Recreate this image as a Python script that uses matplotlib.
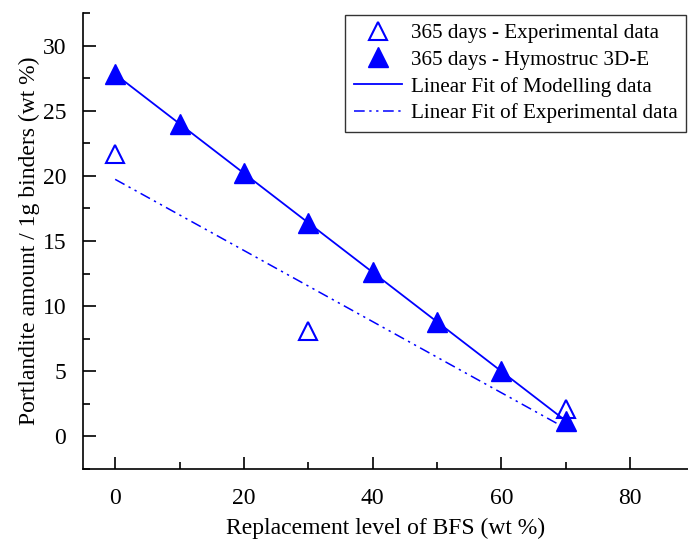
import numpy as np
import matplotlib
matplotlib.use("Agg")
import matplotlib.pyplot as plt
from matplotlib.ticker import MultipleLocator

plt.rcParams['font.family'] = ['Liberation Serif', 'DejaVu Serif']

# data
bfs_exp = [0, 30, 70]
ch_exp = [21.7, 8.1, 2.1]
bfs_mod = [0, 10, 20, 30, 40, 50, 60, 70]
ch_mod = [27.8, 24.0, 20.2, 16.4, 12.6, 8.8, 5.0, 1.2]

blue = '#0000ff'

fig = plt.figure(figsize=(6.88, 5.44), dpi=100)
ax = fig.add_axes([83 / 688, (544 - 469) / 544, (688 - 83) / 688, (469 - 13) / 544])

ax.plot(bfs_exp, ch_exp, linestyle='none', marker='^', ms=13, mfc='white',
        mec=blue, mew=1.5, label='365 days - Experimental data')
ax.plot(bfs_mod, ch_mod, linestyle='none', marker='^', ms=14, color=blue,
        label='365 days - Hymostruc 3D-E')

# linear fits
xf = np.array([0, 70])
pm = np.polyfit(bfs_mod, ch_mod, 1)
pe = np.polyfit(bfs_exp, ch_exp, 1)
ax.plot(xf, np.polyval(pm, xf), color=blue, lw=1.3, label='Linear Fit of Modelling data')
ax.plot(xf, np.polyval(pe, xf), color=blue, lw=1.1, linestyle=(0, (7, 3, 1.5, 3, 1.5, 3)),
        label='Linear Fit of Experimental data')

ax.set_xlim(-5, 89)
ax.set_ylim(-2.5, 32.5)
ax.xaxis.set_major_locator(MultipleLocator(20))
ax.xaxis.set_minor_locator(MultipleLocator(10))
ax.yaxis.set_major_locator(MultipleLocator(5))
ax.yaxis.set_minor_locator(MultipleLocator(2.5))

ax.spines['top'].set_visible(False)
ax.spines['right'].set_visible(False)
ax.spines['left'].set_linewidth(1.2)
ax.spines['bottom'].set_linewidth(1.2)
ax.tick_params(which='both', direction='in', width=1.2, labelsize=17)
ax.tick_params(axis='x', pad=14)
ax.tick_params(axis='y', pad=12)
ax.tick_params(which='major', length=9)
ax.tick_params(which='minor', length=5)

ax.set_xlabel('Replacement level of BFS (wt %)', fontsize=17, labelpad=6)
ax.set_ylabel('Portlandite amount / 1g binders (wt %)', fontsize=17, labelpad=2)

leg = ax.legend(loc='upper right', fontsize=15.2, frameon=True, fancybox=False,
                shadow=False, edgecolor='black', handlelength=2.3,
                borderpad=0.4, labelspacing=0.32, handletextpad=0.4,
                bbox_to_anchor=(1.0, 1.0), borderaxespad=0.1)
leg.get_frame().set_linewidth(1.0)

fig.savefig('out.png', dpi=100)
